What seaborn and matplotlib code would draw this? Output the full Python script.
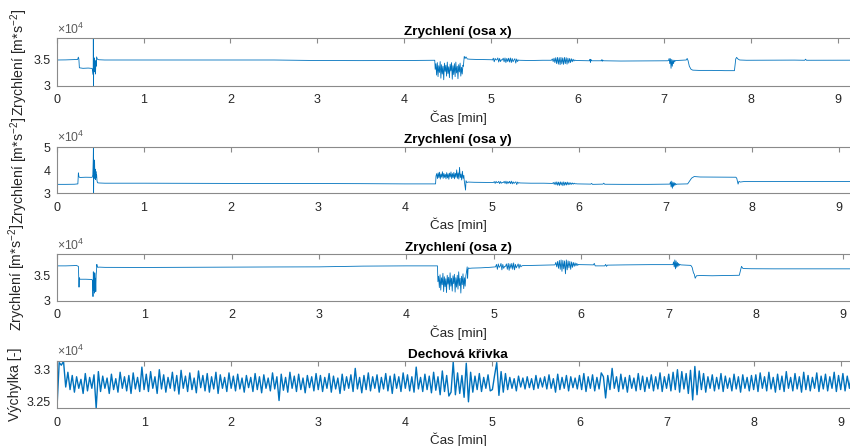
import numpy as np
import pandas as pd
import matplotlib
matplotlib.use("Agg")
import matplotlib.pyplot as plt
import seaborn as sns
from matplotlib.ticker import FuncFormatter

# ---------------- data ----------------
# Acceleration, x axis: base anchor points
x1_t = [0.00, 0.10, 0.20, 0.238, 0.246, 0.252, 0.258, 0.30, 0.36, 0.405, 0.411, 0.417, 0.419, 0.421,
        0.424, 0.428, 0.432, 0.436, 0.440, 0.444, 0.448, 0.452, 0.456, 0.460, 0.466, 0.48, 0.55,
        1.00, 1.50, 2.00, 2.50, 3.00, 3.50, 4.00, 4.355]
x1_v = [35000, 35020, 35080, 35100, 35550, 35200, 33500, 33400, 33450, 33380, 33000, 32200, 39200, 30050,
        34600, 32700, 35400, 33100, 34600, 32300, 34900, 33800, 35600, 35400, 35150, 35050, 35000,
        35000, 34980, 35020, 35000, 34900, 34880, 34900, 34950]
x_burst1 = [33200, 34300, 32100, 34500, 31800, 33900, 32600, 34700, 31500, 34100,
            32300, 33800, 31200, 34400, 32800, 34000, 31900, 34600, 32400, 33700,
            31600, 34200, 32900, 34500, 31300, 33900, 32200, 34300, 31800, 34600,
            32500, 33800, 31400, 34100, 32700, 34400, 31900, 33600, 32300, 34000]
x2_t = [4.685, 4.695, 4.705, 4.715, 4.73, 4.76, 4.85, 4.95, 5.01]
x2_v = [33800, 35700, 35300, 35600, 35200, 35150, 35100, 35080, 35050]
x_burst2 = [35000, 35350, 34650, 35300, 35000, 35050, 35400, 34600, 35300, 34700,
            35050, 35000, 35350, 34650, 35400, 34500, 35300, 34700, 35350, 34600,
            35400, 34500, 35300, 34650, 35000, 35250, 34400, 35200, 34700, 35000]
x3_t = [5.33, 5.45, 5.60, 5.69]
x3_v = [34950, 34900, 34950, 34950]
x_burst3 = [34950, 35200, 34700, 35350, 34500, 35450, 34300, 35500, 34200, 35450,
            34100, 35500, 34250, 35400, 34150, 35500, 34300, 35450, 34200, 35350,
            34400, 35300, 34500, 35250, 34650, 35150, 34800, 35000]
x4_t = [5.98, 6.10, 6.14, 6.145, 6.15, 6.155, 6.16, 6.27, 6.28, 6.285, 6.29, 6.30, 6.5, 6.8, 7.04]
x4_v = [34900, 34850, 34850, 35150, 34550, 35100, 34850, 34850, 35050, 34750, 35000, 34850, 34800, 34820, 34850]
x_burst4 = [34900, 35300, 34300, 35250, 33400, 35100, 33800, 35000, 34300, 34950, 34700, 34900]
x5_t = [7.14, 7.20, 7.255, 7.265, 7.275, 7.29, 7.31, 7.33, 7.40, 7.55, 7.70, 7.81, 7.825, 7.835,
        7.85, 7.87, 7.95, 8.2, 8.5, 8.62, 8.63, 8.64, 8.8, 9.0, 9.25]
x5_v = [34900, 34950, 35000, 35300, 34900, 33800, 33200, 33050, 33000, 33000, 32950, 32950, 35200, 35500,
        35200, 35000, 34950, 34970, 34980, 34950, 35150, 34950, 34950, 34970, 34960]

# Acceleration, y axis
y1_t = [0.00, 0.10, 0.20, 0.24, 0.246, 0.252, 0.262, 0.33, 0.405, 0.412, 0.417, 0.419, 0.421, 0.424,
        0.428, 0.432, 0.436, 0.440, 0.444, 0.448, 0.452, 0.456, 0.460, 0.466, 0.48, 0.55,
        1.0, 1.5, 2.0, 2.5, 3.0, 3.5, 4.0, 4.355]
y1_v = [33900, 33900, 33950, 34100, 38900, 37200, 36900, 37000, 36950, 38000, 45000, 50300, 30000, 41000,
        36500, 44500, 37000, 40500, 36000, 39500, 36800, 38000, 35500, 34600, 34500, 34400,
        34400, 34350, 34300, 34300, 34250, 34200, 34100, 34100]
y_burst1 = [37500, 38600, 36400, 38900, 36800, 39200, 36200, 38400, 37000, 39400,
            36500, 38700, 36900, 38300, 36300, 39000, 36700, 38500, 36100, 38800,
            37100, 39300, 36400, 38600, 36800, 39100, 36300, 38700, 37000, 40200,
            36500, 38900, 36200, 41300, 36800, 38400, 35800, 39600, 36500, 37800]
y2_t = [4.685, 4.70, 4.705, 4.715, 4.73, 4.80, 4.95, 5.01]
y2_v = [35500, 31400, 35500, 34700, 34900, 34800, 34700, 34700]
y_burst2 = [34700, 35100, 34300, 35200, 34600, 34700, 35200, 34200, 35100, 34400,
            34700, 34700, 35200, 34300, 35300, 34100, 35100, 34400, 35200, 34200,
            35300, 34100, 35000, 34300, 34700, 35000, 33800, 34900, 34400, 34600]
y3_t = [5.33, 5.45, 5.60, 5.69]
y3_v = [34500, 34400, 34400, 34300]
y_burst3 = [34300, 34700, 33900, 34900, 33700, 35000, 33500, 34900, 33400, 35000,
            33600, 34900, 33300, 35000, 33500, 34800, 33600, 34900, 33700, 34700,
            33800, 34600, 33900, 34500, 34000, 34400, 34100, 34200]
y4_t = [5.98, 6.10, 6.14, 6.15, 6.16, 6.28, 6.29, 6.30, 6.5, 6.8, 7.04]
y4_v = [34100, 34050, 34000, 34300, 33900, 34000, 34400, 33950, 33900, 33900, 34000]
y_burst4 = [34000, 35000, 32800, 35300, 32200, 34800, 33000, 34600, 33500, 34300, 33800, 34000]
y5_t = [7.14, 7.20, 7.255, 7.30, 7.33, 7.40, 7.55, 7.70, 7.81, 7.82, 7.835, 7.845, 7.86, 7.90,
        8.2, 8.5, 8.8, 9.0, 9.25]
y5_v = [34000, 34050, 34100, 36600, 37300, 37100, 37050, 37000, 37000, 36500, 34000, 35200, 34900, 35100,
        35100, 35150, 35100, 35150, 35100]

# Acceleration, z axis
z1_t = [0.00, 0.10, 0.19, 0.22, 0.245, 0.252, 0.256, 0.262, 0.33, 0.40, 0.407, 0.412, 0.416, 0.420,
        0.424, 0.428, 0.432, 0.436, 0.440, 0.444, 0.448, 0.452, 0.456, 0.460, 0.466, 0.48, 0.55,
        1.0, 1.5, 2.0, 2.5, 3.0, 3.5, 4.0, 4.355]
z1_v = [37000, 37000, 37050, 37100, 36900, 32700, 34600, 34300, 34300, 34250, 34000, 30800, 35800, 32000,
        34800, 31500, 35600, 33000, 34500, 31800, 35200, 36000, 37300, 36900, 36700, 36750, 36700,
        36680, 36720, 36750, 36780, 36800, 36950, 37000, 37000]
z_burst1 = [33800, 34900, 32600, 35200, 32100, 34600, 33200, 35500, 31800, 34800,
            32800, 34400, 31600, 35100, 33300, 34700, 32200, 35600, 32900, 34500,
            31900, 35000, 33400, 35300, 31700, 34600, 32700, 35100, 32300, 35800,
            33000, 34500, 31500, 34900, 33200, 35400, 32400, 34600, 32900, 35000]
z2_t = [4.685, 4.695, 4.700, 4.705, 4.712, 4.72, 4.75, 4.85, 4.95, 5.01]
z2_v = [35500, 36800, 34500, 36300, 36600, 36500, 36550, 36600, 36700, 36800]
z_burst2 = [36800, 37300, 36300, 37400, 36700, 36900, 37500, 36200, 37300, 36500,
            36900, 36900, 37400, 36300, 37500, 36100, 37400, 36500, 37500, 36300,
            37600, 36200, 37300, 36600, 37000, 37400, 36500, 37300, 36800, 37000]
z3_t = [5.33, 5.45, 5.60, 5.69]
z3_v = [37050, 37100, 37150, 37200]
z_burst3 = [37200, 37700, 36800, 37900, 36500, 38100, 36300, 38200, 35900, 38100,
            36400, 38000, 35400, 38200, 36200, 38000, 36600, 37900, 36300, 37800,
            36700, 37700, 36900, 37600, 37000, 37500, 37100, 37300]
z4_t = [5.98, 6.10, 6.14, 6.15, 6.16, 6.20, 6.27, 6.28, 6.29, 6.30, 6.5, 6.8, 7.04]
z4_v = [37250, 37200, 37200, 37500, 37000, 37000, 37000, 37300, 36900, 37150, 37200, 37250, 37250]
z_burst4 = [37250, 37800, 36800, 38200, 36400, 38000, 36700, 37700, 36900, 37500, 37100, 37300]
z5_t = [7.14, 7.20, 7.255, 7.27, 7.285, 7.295, 7.305, 7.32, 7.36, 7.50, 7.65, 7.81, 7.825, 7.835,
        7.85, 7.87, 7.95, 8.2, 8.5, 8.8, 9.0, 9.25]
z5_v = [37200, 37150, 37100, 36700, 35600, 35300, 34500, 35000, 35050, 35000, 35050, 35100, 36200, 36900,
        36500, 36450, 36420, 36400, 36400, 36420, 36400, 36400]

# Breathing curve, one value every 0.025 min, grouped by minute
breath_m0 = [32400, 33100, 33060, 33120, 32720, 32950, 32680, 32900, 32640, 32880,
             32700, 32840, 32620, 32930, 32660, 32870, 32700, 32910, 32390, 32960,
             32650, 32890, 32700, 32860, 32620, 32920, 32680, 32850, 32640, 32950,
             32700, 32880, 32660, 32900, 32620, 32940, 32690, 32870, 32650, 33030]
breath_m1 = [32680, 32920, 32650, 32960, 32700, 32880, 32620, 32990, 32690, 32910,
             32640, 32870, 32700, 32950, 32660, 32900, 32610, 32980, 32700, 32890,
             32650, 32940, 32680, 32860, 32630, 32970, 32710, 32900, 32660, 32930,
             32640, 32880, 32690, 32950, 32620, 32910, 32700, 32870, 32650, 32940]
breath_m2 = [32700, 32890, 32660, 32920, 32690, 32860, 32640, 32900, 32710, 32870,
             32650, 32930, 32680, 32880, 32630, 32910, 32700, 32860, 32660, 32940,
             32690, 32880, 32510, 32920, 32670, 32870, 32640, 32950, 32700, 32890,
             32650, 32920, 32680, 32860, 32630, 32900, 32710, 32880, 32660, 32930]
breath_m3 = [32680, 32900, 32650, 32870, 32700, 32930, 32640, 32890, 32690, 32860,
             32620, 32920, 32670, 32880, 32700, 32910, 32650, 33010, 32690, 32870,
             32630, 32900, 32680, 32940, 32660, 32880, 32700, 32910, 32640, 32870,
             32690, 32930, 32660, 32890, 32620, 32920, 32700, 32880, 32650, 32940]
breath_m4 = [32700, 32910, 32660, 32880, 32640, 33030, 32690, 32870, 32650, 32920,
             32680, 32890, 32630, 32950, 32670, 32880, 32600, 32970, 32650, 32900,
             32580, 32640, 33110, 32600, 32940, 32620, 32900, 32560, 33090, 32490,
             32950, 32640, 32890, 32680, 32930, 32650, 32870, 32700, 32910, 32660]
breath_m5 = [32680, 32900, 33100, 32590, 32960, 32640, 32930, 32680, 32870, 32700,
             32850, 32660, 32890, 32720, 32860, 32690, 32880, 32710, 32850, 32680,
             32900, 32700, 32860, 32720, 32880, 32690, 32910, 32700, 32850, 32640,
             32920, 32680, 32870, 32700, 32900, 32660, 32880, 32710, 32860, 32690]
breath_m6 = [32900, 32680, 32930, 32650, 32880, 32700, 32910, 32660, 32870, 32690,
             32940, 32880, 32550, 32900, 32680, 33010, 32700, 32880, 32650, 32920,
             32690, 32870, 32640, 32900, 32700, 32860, 32660, 32930, 32680, 32890,
             32650, 32870, 32700, 32910, 32660, 32880, 32690, 32940, 32650, 32880]
breath_m7 = [32700, 32920, 32660, 32950, 32680, 32990, 32640, 32960, 32690, 32930,
             32620, 32980, 32520, 33040, 32600, 32970, 32680, 32930, 32640, 32880,
             32700, 32910, 32660, 32870, 32690, 32930, 32650, 32890, 32700, 32860,
             32660, 32920, 32690, 32880, 32640, 32910, 32700, 32870, 32660, 32900]
breath_m8 = [32680, 32910, 32650, 32940, 32700, 32880, 32660, 32950, 32690, 32870,
             32640, 32920, 32680, 32890, 32650, 32960, 32700, 32870, 32660, 32930,
             32690, 32880, 32640, 32950, 32680, 32900, 32660, 32870, 32700, 32940,
             32650, 32890, 32690, 32920, 32660, 32880, 32700, 32950, 32650, 32900]
breath_m9 = [32680, 32930, 32660, 32890, 32700, 32940, 32650, 32880, 32690]
breath_step = 0.025

titles = ["Zrychlení (osa x)", "Zrychlení (osa y)", "Zrychlení (osa z)", "Dechová křivka"]
ylabels = ["Zrychlení [m*s$^{-2}$]"] * 3 + ["Výchylka [-]"]
xlabel = "Čas [min]"
yticks = [[30000, 35000], [30000, 40000, 50000], [30000, 35000], [32500, 33000]]
ylims = [(30000, 39230), (30000, 50300), (30000, 39400), (32389, 33125)]
xmaxs = [9.246, 9.226, 9.18, 9.21]


def build(pieces, bursts):
    t, v = [], []
    for pt, pv in pieces:
        t += list(pt)
        v += list(pv)
    for t0, t1, vals in bursts:
        t += list(np.linspace(t0, t1, len(vals)))
        v += list(vals)
    df = pd.DataFrame({"t": t, "v": v}).sort_values("t").reset_index(drop=True)
    return df


df_x = build([(x1_t, x1_v), (x2_t, x2_v), (x3_t, x3_v), (x4_t, x4_v), (x5_t, x5_v)],
             [(4.36, 4.68, x_burst1), (5.02, 5.32, x_burst2), (5.70, 5.97, x_burst3), (7.05, 7.13, x_burst4)])
df_y = build([(y1_t, y1_v), (y2_t, y2_v), (y3_t, y3_v), (y4_t, y4_v), (y5_t, y5_v)],
             [(4.36, 4.68, y_burst1), (5.02, 5.32, y_burst2), (5.70, 5.97, y_burst3), (7.05, 7.13, y_burst4)])
df_z = build([(z1_t, z1_v), (z2_t, z2_v), (z3_t, z3_v), (z4_t, z4_v), (z5_t, z5_v)],
             [(4.36, 4.68, z_burst1), (5.02, 5.32, z_burst2), (5.70, 5.97, z_burst3), (7.05, 7.13, z_burst4)])
breath = (breath_m0 + breath_m1 + breath_m2 + breath_m3 + breath_m4 +
          breath_m5 + breath_m6 + breath_m7 + breath_m8 + breath_m9)
df_b = pd.DataFrame({"t": np.arange(len(breath)) * breath_step, "v": breath})

# ---------------- styling ----------------
sns.set_style("white")
plt.rcParams["font.family"] = ["Liberation Sans", "DejaVu Sans"]
plt.rcParams["mathtext.fontset"] = "custom"
plt.rcParams["mathtext.rm"] = "Liberation Sans"
plt.rcParams["mathtext.it"] = "Liberation Sans:italic"
plt.rcParams["mathtext.bf"] = "Liberation Sans:bold"

BLUE = "#0072BD"
SPINE = "#8a8a8a"
TXT = "#262626"

W, H = 850, 446
fig = plt.figure(figsize=(W / 100, H / 100), dpi=100)
fig.patch.set_facecolor("white")

left_px, right_px = 57, 859
tops = [38, 146.7, 254, 361]
bottoms = [86, 193.3, 300.5, 408.3]
ylab_x_px = [30.5, 30.5, 28.5, 22]

frames = [df_x, df_y, df_z, df_b]
lws = [0.6, 0.6, 0.6, 1.0]

for i, df in enumerate(frames):
    rect = [left_px / W, 1 - bottoms[i] / H, (right_px - left_px) / W, (bottoms[i] - tops[i]) / H]
    ax = fig.add_axes(rect)
    sns.lineplot(data=df, x="t", y="v", ax=ax, color=BLUE, linewidth=lws[i],
                 estimator=None, sort=False)
    ax.set_xlim(0, xmaxs[i])
    ax.set_ylim(*ylims[i])
    ax.set_xticks(range(10))
    ax.set_yticks(yticks[i])
    ax.yaxis.set_major_formatter(FuncFormatter(lambda val, pos: f"{val / 1e4:g}"))
    ax.tick_params(axis="both", direction="in", top=True, right=True, length=3.5, width=0.8,
                   color=SPINE, labelcolor=TXT, labelsize=9.0)
    ax.tick_params(axis="x", pad=6)
    ax.tick_params(axis="y", pad=4.5)
    for s in ax.spines.values():
        s.set_color(SPINE)
        s.set_linewidth(0.8)
    ax.set_title(titles[i], fontsize=9.7, fontweight="bold", pad=2.5, color="black")
    ax.set_xlabel(xlabel, fontsize=9.7, labelpad=3, color=TXT)
    ax.set_ylabel(ylabels[i], fontsize=10.2, color=TXT)
    ax.yaxis.set_label_coords((ylab_x_px[i] - left_px) / (right_px - left_px), 0.5)
    ax.text(0.0, 1.0 + 1.5 / (bottoms[i] - tops[i]), "×10$^{4}$", transform=ax.transAxes,
            ha="left", va="bottom", fontsize=8.8, color="#5a5a5a")
    ax.grid(False)

fig.savefig("out.png", dpi=100, facecolor="white")
